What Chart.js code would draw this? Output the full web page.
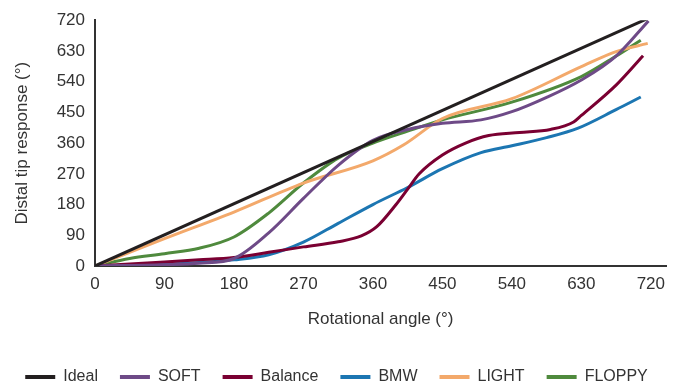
<!DOCTYPE html>
<html>
<head>
<meta charset="utf-8">
<script src="https://cdn.jsdelivr.net/npm/chart.js@4/dist/chart.umd.min.js"></script>
<style>
  html, body { margin: 0; padding: 0; background: #fff; }
  #wrap { width: 673px; height: 382px; position: relative; }
</style>
</head>
<body>
<div id="wrap"><canvas id="tipChart"></canvas></div>
<script>
// values: [rotational angle, tip response] in degrees
const ideal   = [[0, 0], [717, 726]];
const soft    = [[0, 0], [90, 4], [135, 8], [180, 22], [225, 97], [270, 198], [315, 295], [360, 368], [405, 400], [450, 418], [500, 428], [540, 452], [585, 494], [630, 545], [675, 615], [717, 718]];
const balance = [[0, 0], [90, 12], [135, 18], [180, 25], [225, 40], [270, 56], [315, 71], [345, 88], [365, 115], [390, 180], [405, 225], [420, 270], [450, 325], [480, 360], [510, 382], [550, 391], [590, 400], [620, 422], [630, 441], [675, 530], [710, 616]];
const bmw     = [[0, 0], [90, 5], [135, 10], [180, 18], [225, 33], [270, 70], [315, 125], [360, 180], [405, 230], [450, 285], [500, 332], [540, 352], [585, 376], [625, 403], [675, 458], [707, 495]];
const light   = [[0, 0], [90, 80], [180, 158], [270, 243], [360, 308], [400, 355], [450, 432], [540, 490], [630, 584], [675, 628], [716, 652]];
const floppy  = [[0, 0], [45, 22], [90, 36], [135, 52], [180, 85], [225, 155], [270, 243], [315, 316], [360, 360], [405, 395], [450, 428], [540, 480], [630, 555], [675, 615], [707, 661]];

const seriesNames  = ['Ideal', 'SOFT', 'Balance', 'BMW', 'LIGHT', 'FLOPPY'];
const seriesColors = ['#231f20', '#6e4a87', '#7a0032', '#1c76b2', '#f3a96b', '#4f8a3d'];
const seriesData   = [ideal, soft, balance, bmw, light, floppy];
const angleTicks   = [0, 90, 180, 270, 360, 450, 540, 630, 720];

const FONT = "'Liberation Sans', Arial, sans-serif";
const TXT = '#333333';

const datasets = seriesNames.map((name, i) => ({
  label: name,
  data: seriesData[i].map(p => ({ x: p[0], y: p[1] })),
  borderColor: seriesColors[i],
  backgroundColor: seriesColors[i],
  borderWidth: 3,
  pointRadius: 0,
  fill: false,
  cubicInterpolationMode: 'monotone'
}));

new Chart(document.getElementById('tipChart'), {
  type: 'line',
  data: { datasets: datasets },
  options: {
    responsive: true,
    maintainAspectRatio: false,
    animation: false,
    layout: { padding: { top: 16, right: 0, left: 0, bottom: -13 } },
    plugins: {
      tooltip: { enabled: false },
      legend: {
        position: 'bottom',
        labels: {
          boxWidth: 30,
          boxHeight: 4,
          padding: 22,
          color: TXT,
          font: { family: FONT, size: 16 },
          generateLabels: chart => chart.data.datasets.map((ds, i) => ({
            text: ds.label,
            fillStyle: ds.borderColor,
            strokeStyle: ds.borderColor,
            lineWidth: 0,
            fontColor: TXT,
            datasetIndex: i
          }))
        }
      }
    },
    scales: {
      x: {
        type: 'linear',
        min: 0,
        max: 740,
        afterBuildTicks: scale => { scale.ticks = angleTicks.map(v => ({ value: v })); },
        afterFit: scale => { scale.height = 81; },
        grid: { display: false, drawTicks: false },
        border: { display: true, color: '#333', width: 2 },
        ticks: { color: TXT, padding: 8, autoSkip: false, maxRotation: 0, font: { family: FONT, size: 17 } },
        title: { display: true, text: 'Rotational angle (°)', color: TXT, font: { family: FONT, size: 17 }, padding: { top: 0, bottom: 17 } }
      },
      y: {
        min: 0,
        max: 720,
        afterBuildTicks: scale => { scale.ticks = angleTicks.map(v => ({ value: v })); },
        afterFit: scale => { scale.width = 95; },
        grid: { display: false, drawTicks: false },
        border: { display: true, color: '#333', width: 2 },
        ticks: { color: TXT, padding: 10, autoSkip: false, font: { family: FONT, size: 17 } },
        title: { display: true, text: 'Distal tip response (°)', color: TXT, font: { family: FONT, size: 17 }, padding: { top: 12, bottom: 0 } }
      }
    }
  }
});
</script>
</body>
</html>
